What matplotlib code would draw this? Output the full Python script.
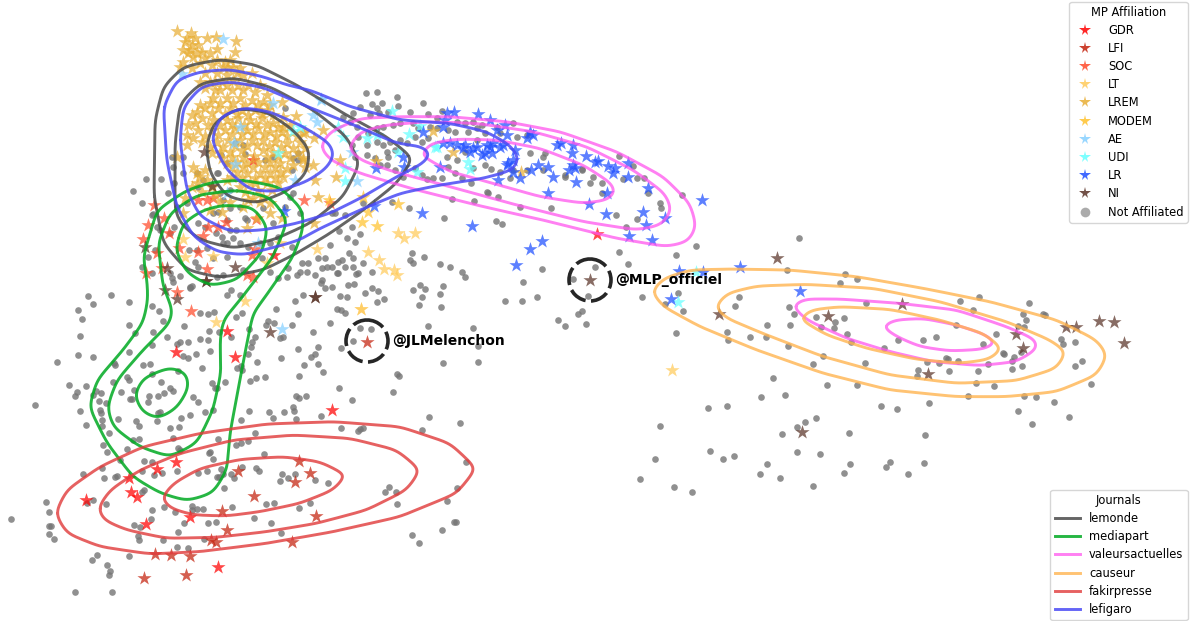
import numpy as np
import matplotlib
matplotlib.use("Agg")
import matplotlib.pyplot as plt
from matplotlib.lines import Line2D
from matplotlib.patches import Circle

W, H = 1197, 621

def crop(pts, x0, y0):
    return [(x0 + a / 3, y0 + b / 3) for a, b in pts]

# read-off positions, grouped by the crop they were read from
gray_lower = [(264,49),(334,44),(234,90),(280,73),(386,65),(246,117),(240,168),(386,135),(405,160),(456,78),(476,94),(490,124),(459,155),(500,170),(553,137),(520,5),(575,18),(570,24),(692,30),(682,44),(720,46),(601,98),(624,102),(642,96),(708,112),(725,100),(627,153),(657,155),(693,170),(747,147),(764,170),(755,185),(752,202),(744,222),(772,247),(710,265),(724,258),(725,270),(767,294),(750,303),(796,290),(829,88),(895,101),(885,63),(909,45),(964,10),(975,25),(995,20),(1021,47),(1045,15),(1062,12),(1040,50),(1094,38),(1130,65),(1153,58),(1116,25),(1133,33),(1240,30),(1260,15),(1275,28),(1265,52),(1330,18),(1320,42),(1258,76),(1322,82),(1010,88),(1022,90),(1035,98),(990,130),(940,155),(875,135),(805,123),(822,128),(798,136),(850,172),(840,175),(895,208),(843,235),(953,200),(945,222),(933,232),(912,254),(953,252),(970,277),(897,287),(1023,205),(1060,183),(1079,143),(1112,147),(1283,138),(1420,145),(1435,198),(1328,248),(1435,246),(1190,281),(1198,287),(1180,337),(1017,323),(1055,360),(889,348),(897,353),(917,349),(880,380),(883,393),(851,397),(808,395),(819,414),(887,417),(962,407),(747,394),(723,420),(635,310),(645,325),(652,325),(676,305),(595,365),(578,350),(615,396),(638,390),(571,406),(543,415),(537,440),(511,445),(519,473),(473,400),(480,395),(470,423),(408,422),(418,438),(355,418),(328,460),(306,420),(302,400),(299,390),(318,370),(296,362),(302,340),(280,345),(288,332),(225,347),(232,335),(206,314),(259,317),(340,306),(362,335),(382,290),(386,300),(403,330),(390,357),(395,358),(444,365),(447,348),(475,347),(491,340),(510,325),(518,332),(482,306),(455,282),(430,254),(450,253),(344,255),(342,250),(388,216),(456,195),(530,192),(541,187),(564,187),(599,178),(624,180),(630,213),(587,222),(548,228),(563,233),(605,264),(533,272),(170,246),(233,225),(279,231),(105,375),(239,394),(257,435),(305,437),(418,477),(400,480),(308,495),(322,517),(380,508),(431,543),(455,545),(535,505),(541,510),(531,572),(487,580),(463,585),(426,572),(350,588),(344,590),(313,594),(250,581),(305,565),(360,540),(432,630),(425,635),(280,660),(318,671),(260,670),(139,665),(146,697),(32,716),(146,737),(153,737),(147,762),(161,776),(277,840),(290,824),(388,827),(321,854),(329,873),(327,885),(224,936),(337,935),(401,735),(420,742),(452,717),(457,691),(493,680),(526,696),(575,677),(590,688),(610,688),(575,690),(552,730),(535,756),(488,781),(415,768),(418,780),(531,800),(564,805),(625,729),(649,727),(613,777),(653,476),(630,515),(628,520),(638,538),(594,578),(621,572),(663,568),(668,582),(650,592),(657,590),(694,582),(701,595),(727,560),(767,564),(776,574),(673,624),(697,681),(761,713),(814,730),(844,760),(797,671),(822,668),(897,683),(930,670),(985,608),(945,600),(884,583),(864,593),(846,581),(841,604),(791,521),(766,459),(722,490),(745,482),(707,495),(1023,444),(1073,453),(1080,448),(1090,443),(1266,451),(1288,412),(1379,428),(1397,546),(1168,620),(1155,637),(1187,635),(1191,672),(1342,662),(1371,623),(1362,726),(1367,727),(1325,749),(1237,766),(1257,788)]

gray_upper = [(125,440),(160,440),(130,470),(48,508),(92,507),(160,490),(8,544),(35,580),(115,548),(67,615),(132,520),(140,590),(172,578),(200,490),(220,510),(265,490),(290,460),(340,405),(345,433),(315,400),(272,435),(405,450),(430,440),(465,295),(505,430),(505,450),(490,445),(485,480),(270,550),(205,530),(300,540),(260,490),(280,570),(265,605),(225,650),(205,640),(250,610),(300,595),(330,590),(350,630),(345,625),(290,630),(318,660),(300,660),(310,685),(290,700),(275,680),(280,700),(258,670),(230,715),(200,720),(178,720),(120,670),(133,650),(68,613),(80,650),(90,660),(75,720),(55,740),(35,770),(65,790),(125,805),(120,790),(150,798),(195,755),(180,830),(205,770),(250,745),(260,800),(290,740),(330,700),(355,710),(390,700),(395,745),(420,700),(445,680),(485,710),(420,785),(445,805),(470,800),(500,795),(510,785),(475,775),(340,780),(280,795),(430,640),(400,595),(480,560),(465,590),(490,550),(510,610)]

gray_middle = [(197,8),(230,5),(292,22),(370,40),(215,42),(245,40),(232,55),(180,50),(160,70),(295,48),(150,95),(130,80),(210,75),(238,70),(265,65),(330,65),(385,72),(410,85),(425,62),(470,95),(495,100),(520,95),(545,105),(590,110),(640,100),(170,110),(205,130),(230,115),(250,110),(280,105),(300,100),(340,100),(355,115),(390,110),(410,115),(445,120),(465,125),(505,125),(530,115),(555,130),(600,130),(650,140),(680,135),(155,165),(175,140),(200,165),(230,155),(250,165),(270,155),(300,150),(320,160),(345,140),(365,155),(385,145),(530,150),(690,190),(735,188),(730,200),(200,195),(165,200),(225,205),(260,185),(265,200),(285,180),(240,225),(260,225),(285,240),(310,260),(345,235),(365,255),(380,268),(400,265),(425,265),(440,200),(445,230),(470,210),(495,185),(465,250),(485,265),(512,280),(520,235),(555,225),(572,238),(640,240),(600,245),(630,265),(680,240),(730,240),(795,255),(845,238),(880,262),(870,280),(795,262),(845,240),(905,280),(968,267),(1033,265),(1045,310),(1145,314),(1080,340),(1083,355),(1010,388),(978,411),(947,375),(905,310),(958,197),(1000,227),(1010,265),(660,350),(752,353),(457,327),(522,332),(560,307),(565,308),(595,320),(432,385),(327,355),(275,335),(190,340),(105,370),(97,370),(135,375),(155,410),(117,423),(142,445),(165,455),(180,432),(90,465),(75,505),(148,490),(160,503),(125,510),(115,515),(95,530),(80,530),(65,533),(25,520),(5,520),(55,505),(160,530),(135,530),(115,550),(112,550),(65,570),(45,555),(20,545),(215,547),(190,520),(175,550),(167,553),(335,488),(330,510),(340,520),(373,500),(420,522),(451,532),(485,546),(495,562),(588,394),(606,401),(958,487),(983,522),(885,532),(725,536),(818,567),(668,575),(665,632),(615,634),(710,620),(775,690),(796,708),(835,672),(847,664),(859,701),(865,618)]

gray_right = [(477,53),(168,78),(107,106),(441,149),(614,162),(651,178),(600,189),(113,218),(5,231),(75,252),(130,274),(108,338),(298,230),(285,257),(262,336),(263,359),(330,352),(378,352),(382,314),(450,314),(447,262),(462,281),(528,290),(612,293),(585,307),(544,320),(582,324),(622,341),(633,367),(678,249),(733,385),(774,359),(848,360),(887,351),(947,314),(960,243),(1017,230),(998,269),(1167,249),(1149,282),(1158,299),(1208,281),(1216,284),(1135,318),(1152,321),(1069,341),(1030,371),(1263,357),(1269,371),(1305,367),(1326,422),(1305,437),(1352,491),(1241,546),(1188,532),(1153,529),(1133,572),(1175,613),(1287,592),(985,527),(1063,499),(1007,490),(1013,453),(1044,431),(1090,400),(1093,403),(1123,412),(1115,423),(1143,397),(1147,437),(1117,448),(955,424),(925,417),(917,415),(898,428),(861,425),(926,453),(833,449),(830,467),(868,550),(771,566),(722,558),(651,494),(562,496),(548,408),(519,433),(675,428),(444,378),(399,473),(363,530),(434,526),(262,557),(203,563),(61,618),(529,593),(494,607),(471,622),(426,643),(626,640),(854,644),(211,693),(282,708),(248,716),(44,716),(471,696),(541,701),(382,733),(361,762),(419,774),(101,802),(157,816),(520,798),(611,760),(630,733),(738,741),(751,726),(803,762),(853,728),(0,778)]

gdr_lower = [(995,390),(528,215),(680,153),(704,232),(528,545),(470,567),(388,594),(392,637),(412,650),(258,660),(438,733),(570,710),(653,862)]
gdr_upper = [(370,450),(433,735)]
gdr_middle = [(890,432)]

lfi_lower = [(898,542),(930,578),(884,607),(714,574),(762,647),(666,694),(948,707),(682,750),(634,780),(648,785),(875,787),(466,823),(512,826),(570,828),(557,885),(431,895),(1101,185)]

soc_lower = [(531,37),(573,92)]
soc_upper = [(72,585),(103,625),(55,645),(118,670),(38,688),(82,730),(148,715),(47,790),(203,725),(232,778),(95,775),(220,678),(235,650),(265,650),(288,635),(232,570),(250,565),(205,570),(522,570),(378,628),(370,800),(350,795),(365,735),(375,718),(600,580)]

lt_lower = [(735,62),(648,125),(1082,88)]
lt_upper = [(160,688),(165,740),(248,738),(410,760),(450,700)]
lt_middle = [(295,430),(313,443),(344,430),(203,485),(237,510),(253,537),(283,540),(292,555),(183,658),(50,477)]
lt_right = [(97,450)]

lrem_upper = [(140,62),(232,85),(318,92),(175,130),(315,125),(158,155),(150,170),(365,190),(183,70),(165,97),(258,82),(185,105),(205,105),(200,130),(262,118),(190,140),(245,165),(280,170),(310,170),(330,175),(210,160),(225,190),(260,190),(290,195),(320,190),(210,215),(240,215),(275,215),(310,210),
 (270,240),(305,240),(340,240),(375,245),(410,255),(455,275),(210,285),(250,265),(290,265),(330,265),(365,270),(400,275),(185,315),(225,295),(265,295),(300,295),(335,300),(375,300),(410,300),(497,317),
 (175,345),(215,325),(250,330),(290,330),(325,325),(360,330),(395,325),(430,340),(460,350),(170,375),(205,360),(245,360),(285,360),(315,355),(350,360),(385,355),(420,365),(455,365),
 (170,405),(215,395),(260,395),(295,390),(330,390),(365,390),(400,390),(435,395),(470,400),(510,395),(140,440),(245,430),(270,425),(300,425),(335,420),(400,420),(430,425),(465,430),(505,430),(520,450),
 (290,460),(320,455),(350,460),(385,455),(420,455),(450,460),(490,465),(200,490),(320,485),(350,490),(390,490),(420,490),(450,485),(230,510),(200,520),(290,510),(360,520),(410,520),(445,520),
 (255,555),(370,565),(400,560),(165,565),(160,610),(240,600),(275,605),(340,590),(380,625),(420,610),(455,625),(350,655),(355,570),(375,520),
 (170,85),(195,85),(160,120),(180,120),(215,125),(240,130),(285,155),(225,145),(260,150),(300,150),(185,175),(340,195),(295,175),(255,215),(225,235),(255,240),(290,225),(325,225),(355,225),(390,225),
 (240,280),(270,280),(310,280),(345,285),(385,285),(420,285),(200,305),(245,310),(285,312),(320,312),(355,315),(395,312),(430,315),(460,320),(195,340),(235,345),(270,345),(305,342),(342,345),(378,342),(412,345),(445,350),(480,345),
 (190,385),(225,378),(265,375),(305,372),(335,372),(368,372),(402,372),(438,378),(470,378),(500,378),(520,370),(240,410),(278,410),(315,408),(350,408),(382,405),(418,408),(452,412),(488,415),(525,415),
 (275,445),(305,442),(340,440),(372,438),(410,440),(445,442),(480,445),(525,470),(305,470),(338,472),(370,472),(405,472),(435,472),(470,478),(305,500),(335,505),(375,505),(405,505),(435,505),(460,500),
 (225,480),(190,470),(210,500),(185,530),(215,545),(245,530),(330,530),(345,545),(385,540),(425,540),(390,575),(420,580),(300,575),(270,575)]
lrem_middle = [(400,122),(458,185),(228,212),(662,245),(120,210),(108,262),(42,398),(55,320),(45,270),(40,225),(42,145),(70,120),(15,125),(10,205)]
modem_middle = [(190,320),(205,365),(187,397),(295,342),(232,407),(88,330)]

ae_upper = [(278,88),(155,192),(573,268),(430,280),(330,350),(312,400),(315,462),(495,510),(385,700),(290,550)]
ae_middle = [(62,30),(40,75),(50,95),(155,185),(170,272)]
ae_lower = [(845,146)]

udi_upper = [(490,362),(510,352),(445,430)]
udi_middle = [(275,62),(327,132),(230,135),(200,145),(115,110),(130,140),(295,185),(350,247),(135,235),(135,272),(505,215),(510,237),(405,170),(410,170),(360,108)]
udi_right = [(115,245),(168,155)]

lr_upper = [(462,602)]
lr_middle = [(442,68),(462,65),(534,73),(570,90),(430,110),(370,125),(615,105),(590,120),(620,135),(690,125),(700,135),(680,145),(770,165),(782,158),(820,165),(815,190),(857,197),(885,215),(895,212),(925,228),(985,220),(945,235),(940,250),(985,262),(820,225),(808,240),(825,235),(760,262),(827,275),(745,230),(715,225),(692,240),(745,308),(920,310),(868,342),(918,372),(1030,365),(1095,383),(1045,293),(1037,404),(987,437),(1057,450),(1207,331),(660,265),(640,245),(595,270),(625,220),(645,180),(640,210),(620,225),(575,190),(555,190),(545,195),(580,160),(600,170),(520,175),(510,185),(490,175),(470,165),(450,160),(430,160),(495,165),(420,232),(310,200),(312,230),(228,235),(365,368),(222,348),(517,407),(690,477),(727,454),(647,526),(435,90),(530,170),(570,170),(610,165),(560,165)]
lr_right = [(118,152),(188,157),(301,140),(92,237),(481,212)]

ni_lower = [(495,30),(530,58),(617,3),(945,52),(810,156)]
ni_upper = [(222,427),(45,712),(110,773),(228,812),(315,770),(245,527)]
ni_middle = [(45,622),(870,570)]
ni_right = [(412,113),(237,281),(563,288),(787,253),(1128,341),(1150,384),(1278,322),(1307,320),(1376,304),(1422,305),(1451,370),(864,463),(485,636)]

parties = ["GDR", "LFI", "SOC", "LT", "LREM", "MODEM", "AE", "UDI", "LR", "NI"]
party_colors = ["#ff0000", "#c4210c", "#ff4a2a", "#ffcb5a", "#e8ae35", "#ffc22e", "#86d0ff", "#66ffff", "#1f4fff", "#5a3428"]
party_points = [
    crop(gdr_lower, 0, 280) + crop(gdr_upper, 130, 10) + crop(gdr_middle, 300, 90),
    crop(lfi_lower, 0, 280),
    crop(soc_lower, 0, 280) + crop(soc_upper, 130, 10),
    crop(lt_lower, 0, 280) + crop(lt_upper, 130, 10) + crop(lt_middle, 300, 90) + crop(lt_right, 640, 220),
    crop(lrem_upper, 130, 10) + crop(lrem_middle, 300, 90),
    crop(modem_middle, 300, 90),
    crop(ae_upper, 130, 10) + crop(ae_middle, 300, 90) + crop(ae_lower, 0, 280),
    crop(udi_upper, 130, 10) + crop(udi_middle, 300, 90) + crop(udi_right, 640, 220),
    crop(lr_upper, 130, 10) + crop(lr_middle, 300, 90) + crop(lr_right, 640, 220),
    crop(ni_lower, 0, 280) + crop(ni_upper, 130, 10) + crop(ni_middle, 300, 90) + crop(ni_right, 640, 220),
]
gray_points = crop(gray_lower, 0, 280) + crop(gray_upper, 130, 10) + crop(gray_middle, 300, 90) + crop(gray_right, 640, 220)

# density rings
lemonde_rings = [
    crop([(72,560),(75,330),(100,230),(160,170),(270,148),(380,165),(500,225),(640,310),(770,380),(850,445),(800,520),(700,600),(600,670),(500,730),(400,780),(270,803),(170,780),(100,700)], 130, 10),
    crop([(135,600),(135,400),(150,280),(210,220),(310,203),(420,230),(550,300),(650,380),(690,460),(640,560),(540,640),(430,690),(310,715),(210,690),(150,640)], 130, 10),
    crop([(228,410),(250,340),(320,295),(410,305),(490,360),(540,420),(530,490),(470,545),(380,580),(290,560),(240,490)], 130, 10),
]
lefigaro_rings = [
    crop([(100,290),(140,210),(210,185),(300,178),(400,200),(470,225),(540,240),(660,290),(810,330),(960,340),(1070,365),(1140,405),(1170,445),(1150,480),(1060,505),(930,525),(810,550),(690,600),(560,660),(510,690),(440,710),(340,735),(260,725),(190,680),(140,590),(110,450)], 130, 10),
    crop([(150,390),(160,290),(215,228),(300,215),(400,232),(520,285),(660,340),(800,400),(880,410),(905,432),(880,460),(800,500),(700,560),(600,610),(500,640),(400,660),(300,665),(210,620),(170,540)], 130, 10),
    crop([(243,390),(270,320),(340,292),(420,305),(520,350),(600,400),(615,435),(590,475),(530,515),(440,545),(360,540),(290,480)], 130, 10),
]
mediapart_rings = [
    [(243,180),(280,187),(303,210),(303,230),(293,257),(263,300),(253,313),(245,353),(238,390),(230,433),(227,470),(213,493),(187,501),(160,493),(133,477),(107,443),(89,407),(97,380),(123,350),(143,323),(148,300),(147,280),(143,257),(157,210),(187,190),(213,182)],
    [(237,190),(270,197),(288,220),(273,257),(240,300),(223,320),(220,340),(221,373),(213,410),(197,443),(170,457),(140,447),(113,427),(107,407),(117,380),(143,350),(170,323),(173,310),(163,287),(158,243),(170,213),(197,195)],
    [(223,205),(253,207),(268,227),(262,253),(237,280),(210,286),(187,273),(175,250),(183,223),(203,210)],
    [(134,395),(143,378),(170,367),(187,373),(189,388),(177,408),(158,419),(142,412)],
]
valeurs_rings = [
    crop([(58,170),(90,125),(180,85),(300,80),(450,80),(620,95),(780,125),(950,185),(1090,260),(1170,340),(1190,410),(1165,455),(1100,470),(950,445),(750,395),(550,350),(350,300),(180,250),(90,210)], 300, 90),
    crop([(142,175),(180,125),(260,105),(380,95),(530,100),(700,125),(860,170),(1000,240),(1095,310),(1117,360),(1085,405),(1010,420),(850,395),(650,345),(450,290),(280,245),(180,210)], 300, 90),
    crop([(360,195),(390,160),(470,147),(590,150),(720,175),(850,225),(935,280),(950,305),(925,330),(850,340),(720,320),(580,280),(450,245)], 300, 90),
    crop([(455,258),(490,237),(600,237),(780,250),(950,270),(1100,320),(1190,360),(1195,385),(1130,425),(1020,437),(880,425),(750,395),(620,355),(500,300)], 640, 220),
    crop([(725,320),(760,300),(850,295),(950,315),(1040,345),(1070,370),(1030,388),(930,393),(840,380),(770,350)], 640, 220),
]
causeur_rings = [
    crop([(33,215),(70,175),(150,150),(270,147),(450,150),(650,170),(850,205),(1050,245),(1250,300),(1370,360),(1403,405),(1370,465),(1250,515),(1100,530),(950,530),(750,510),(550,460),(350,390),(180,320),(70,260)], 640, 220),
    crop([(223,262),(260,220),(350,198),(500,193),(700,205),(900,245),(1100,305),(1230,360),(1280,395),(1250,445),(1130,482),(950,490),(750,465),(550,410),(380,345),(260,295)], 640, 220),
    crop([(478,297),(510,270),(600,260),(750,268),(900,300),(1030,340),(1088,385),(1050,418),(960,430),(830,418),(680,385),(560,345)], 640, 220),
]
fakir_rings = [
    crop([(165,700),(200,630),(300,560),(430,500),(600,460),(800,432),(1000,425),(1200,440),(1350,490),(1430,565),(1370,640),(1200,710),(1000,755),(800,790),(600,815),(450,822),(300,800),(200,760)], 0, 280),
    crop([(292,685),(330,630),(420,570),(540,520),(700,480),(880,465),(1050,475),(1190,510),(1262,570),(1220,630),(1100,690),(950,730),(800,755),(650,772),(500,775),(380,750),(310,720)], 0, 280),
    crop([(482,655),(520,610),(600,565),(720,538),(850,530),(960,545),(1040,585),(1000,630),(900,670),(780,695),(680,708),(580,705),(510,685)], 0, 280),
]

journals = ["lemonde", "mediapart", "valeursactuelles", "causeur", "fakirpresse", "lefigaro"]
journal_colors = ["#4a4a4a", "#00aa22", "#ff55ee", "#ffb450", "#e03a3a", "#4a4af5"]
journal_rings = [lemonde_rings, mediapart_rings, valeurs_rings, causeur_rings, fakir_rings, lefigaro_rings]
journal_alpha = [0.85, 0.85, 0.75, 0.8, 0.8, 0.85]

handles_names = ["@JLMelenchon", "@MLP_officiel"]
handles_x = [367, 590]
handles_y = [341, 280]
label_x = [392, 615]


def smooth_closed(pts, sigma=7.0, step=1.0):
    """Closed curve through the read-off ring points: polyline resampled by arc length, then smoothed."""
    p = np.asarray(pts, float)
    closed = np.vstack([p, p[0]])
    s = np.r_[0, np.cumsum(np.hypot(*np.diff(closed, axis=0).T))]
    n = int(s[-1] / step)
    u = np.linspace(0, s[-1], n, endpoint=False)
    x = np.interp(u, s, closed[:, 0])
    y = np.interp(u, s, closed[:, 1])
    k = np.arange(n)
    k = np.minimum(k, n - k)
    kern = np.exp(-0.5 * (k * s[-1] / n / sigma) ** 2)
    kern /= kern.sum()
    fk = np.fft.rfft(kern)
    xs = np.fft.irfft(np.fft.rfft(x) * fk, n)
    ys = np.fft.irfft(np.fft.rfft(y) * fk, n)
    return np.c_[np.r_[xs, xs[0]], np.r_[ys, ys[0]]]


fig = plt.figure(figsize=(W / 100, H / 100), dpi=100)
ax = fig.add_axes([0, 0, 1, 1])
ax.set_xlim(0, W)
ax.set_ylim(H, 0)
ax.axis("off")

g = np.array(gray_points)
ax.scatter(g[:, 0], g[:, 1], s=23, color="#757575", alpha=0.8, linewidths=0, zorder=2)

for name, col, pts in zip(parties, party_colors, party_points):
    a = np.array(pts)
    ax.scatter(a[:, 0], a[:, 1], marker="*", s=115, color=col, alpha=0.72, linewidths=0, zorder=3)

for col, rings, al in zip(journal_colors, journal_rings, journal_alpha):
    for r in rings:
        c = smooth_closed(r)
        ax.plot(c[:, 0], c[:, 1], color=col, lw=2.1, alpha=al, zorder=4, solid_capstyle="round")

for name, hx, hy, lx in zip(handles_names, handles_x, handles_y, label_x):
    ax.add_patch(Circle((hx, hy), 21, fill=False, ec="#1a1a1a", lw=2.6, ls=(0, (5, 1.5)), alpha=0.95, zorder=5))
    ax.text(lx, hy, name, fontsize=10, fontweight="bold", color="black", va="center", ha="left", zorder=6)

party_handles = [Line2D([], [], ls="", marker="*", ms=8.5, mew=0, color=c, alpha=0.85, label=n)
                 for n, c in zip(parties, party_colors)]
party_handles.append(Line2D([], [], ls="", marker="o", ms=7, mew=0, color="#7f7f7f", alpha=0.65, label="Not Affiliated"))
leg1 = ax.legend(handles=party_handles, title="MP Affiliation", loc="upper right",
                 bbox_to_anchor=(1187.5 / W, 1 - 1.5 / H), bbox_transform=fig.transFigure,
                 fontsize=8.3, title_fontsize=8.3, borderaxespad=0, labelspacing=0.45,
                 handletextpad=1.0, borderpad=0.35)
ax.add_artist(leg1)
leg1.set_zorder(7)

journal_handles = [Line2D([], [], color=c, lw=2.1, alpha=a, label=n)
                   for n, c, a in zip(journals, journal_colors, journal_alpha)]
leg2 = ax.legend(handles=journal_handles, title="Journals", loc="lower right",
                 bbox_to_anchor=(1187.5 / W, 1 / H), bbox_transform=fig.transFigure,
                 fontsize=8.3, title_fontsize=8.3, borderaxespad=0, labelspacing=0.45,
                 handlelength=2.2, handletextpad=0.8, borderpad=0.35)
leg2.set_zorder(7)

fig.savefig("out.png", dpi=100, facecolor="white")
